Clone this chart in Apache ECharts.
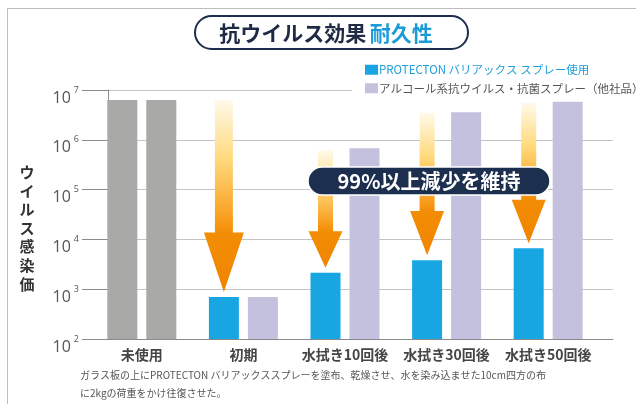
<!DOCTYPE html>
<html><head><meta charset="utf-8">
<script src="https://cdn.jsdelivr.net/npm/echarts@6/dist/echarts.min.js"></script>
<style>html,body{margin:0;padding:0;background:#fff}#c{width:636px;height:404px}</style>
</head><body><div id="c"></div>
<script>
const categories = ['未使用', '初期', '水拭き10回後', '水拭き30回後', '水拭き50回後'];
const protectonValues = [6.3e6, 697, 2140, 3800, 6620];
const alcoholValues = [6.3e6, 697, 6.8e5, 3.56e6, 5.8e6];
const arrowFrom = [null, 6.3e6, 6.2e5, 3.5e6, 5.5e6];
const seriesNames = ['PROTECTON バリアックス スプレー使用', 'アルコール系抗ウイルス・抗菌スプレー（他社品）'];
const yMin = 100, yMax = 1e7;

const FONT = '"Noto Sans CJK JP", "Noto Sans", sans-serif';
const BLUE = '#17a6e2', LAV = '#c4c1de', GRAY = '#a9a9a7';

const chart = echarts.init(document.getElementById('c'), null, {renderer: 'canvas'});

const arrowData = [];
arrowFrom.forEach((v, i) => { if (v != null) arrowData.push([i, v, protectonValues[i]]); });

function renderArrow(params, api) {
  const idx = api.value(0);
  const top = api.coord([idx, api.value(1)]);
  const bar = api.coord([idx, api.value(2)]);
  const cx = top[0] - 19.5;
  const y0 = top[1];
  const y1 = bar[1] - 5;
  const len = y1 - y0;
  const headH = len * 0.31;
  const shaft = idx === 1 ? 18 : 15;
  const headW = idx === 1 ? 40 : 34;
  const yh = y1 - headH;
  const pts = [
    [cx - shaft / 2, y0], [cx + shaft / 2, y0], [cx + shaft / 2, yh],
    [cx + headW / 2, yh], [cx, y1], [cx - headW / 2, yh], [cx - shaft / 2, yh]
  ];
  const hs = 1 - headH / len;
  return {
    type: 'polygon',
    shape: {points: pts},
    style: {
      fill: new echarts.graphic.LinearGradient(0, 0, 0, 1, [
        {offset: 0, color: '#fffaea'},
        {offset: hs * 0.45, color: '#ffd97c'},
        {offset: hs * 0.85, color: '#f9a428'},
        {offset: hs, color: '#f38d05'},
        {offset: 1, color: '#f08400'}
      ])
    }
  };
}

const option = {
  backgroundColor: '#fff',
  animation: false,
  textStyle: {fontFamily: FONT},
  grid: [
    {left: 108, right: 23, top: 90, bottom: 65},
    {left: 91, right: 37, top: 90, bottom: 65}
  ],
  xAxis: [
    {gridIndex: 0, type: 'value', min: 0, max: 1, axisLabel: {show: false}, axisTick: {show: false},
     splitLine: {show: false}, axisLine: {show: true, lineStyle: {color: '#8a8a8a', width: 1}}},
    {gridIndex: 1, type: 'category', data: categories, axisLine: {show: false}, axisTick: {show: false},
     axisLabel: {interval: 0, margin: 9, fontSize: 14, fontWeight: 'bold', color: '#444', fontFamily: FONT}}
  ],
  yAxis: [
    {gridIndex: 0, type: 'log', logBase: 10, min: yMin, max: yMax,
     axisLine: {show: true, lineStyle: {color: '#8a8a8a', width: 1}},
     axisTick: {show: true, inside: false, length: 26, lineStyle: {color: '#8a8a8a'}},
     splitLine: {show: true, lineStyle: {color: '#c4c4c4', width: 1}},
     axisLabel: {
       margin: 29, padding: [16, 0, 0, 0],
       formatter: v => '{b|10}{s|' + Math.round(Math.log10(v)) + '}',
       rich: {
         b: {fontSize: 16, lineHeight: 25, color: '#555', fontFamily: '"Open Sans", sans-serif', padding: [0, 3, 0, 0]},
         s: {fontSize: 9, lineHeight: 9, verticalAlign: 'top', color: '#555', fontFamily: '"Open Sans", sans-serif'}
       }
     }},
    {gridIndex: 1, type: 'log', logBase: 10, min: yMin, max: yMax, show: false}
  ],
  legend: {
    orient: 'vertical', left: 352, top: 62, padding: [2, 4, 2, 13], itemGap: 7,
    itemWidth: 13, itemHeight: 10, icon: 'rect', backgroundColor: '#fff',
    textStyle: {fontSize: 11.5, fontFamily: FONT, padding: [0, 0, 0, -4]},
    data: [
      {name: seriesNames[0], textStyle: {color: '#1f9fdb'}},
      {name: seriesNames[1], textStyle: {color: '#555'}}
    ]
  },
  series: [
    {name: seriesNames[0], type: 'bar', xAxisIndex: 1, yAxisIndex: 1, barWidth: 30, barGap: '30%',
     itemStyle: {color: BLUE},
     data: protectonValues.map((v, i) => i === 0 ? {value: v, itemStyle: {color: GRAY}} : v)},
    {name: seriesNames[1], type: 'bar', xAxisIndex: 1, yAxisIndex: 1, barWidth: 30, barGap: '30%',
     itemStyle: {color: LAV},
     data: alcoholValues.map((v, i) => i === 0 ? {value: v, itemStyle: {color: GRAY}} : v)},
    {type: 'custom', xAxisIndex: 1, yAxisIndex: 1, renderItem: renderArrow, data: arrowData, z: 5, silent: true}
  ],
  graphic: [
    {type: 'rect', z: -1, shape: {x: 7.5, y: 8.5, width: 700, height: 500},
     style: {fill: 'none', stroke: '#bdbdbd', lineWidth: 1}},
    {type: 'rect', z: 10, shape: {x: 195, y: 16, width: 273, height: 33, r: 16.5},
     style: {fill: '#fff', stroke: '#1d2d4e', lineWidth: 2}},
    {type: 'text', z: 11, x: 326, y: 33,
     style: {text: '{a|抗ウイルス効果} {b|耐久性}', align: 'center', verticalAlign: 'middle',
       rich: {a: {fontSize: 21, fontWeight: 'bold', fill: '#1f2a44', fontFamily: FONT},
              b: {fontSize: 21, fontWeight: 'bold', fill: '#1a9ad6', fontFamily: FONT}}}},
    {type: 'text', z: 11, x: 27, y: 228,
     style: {text: 'ウ\nイ\nル\nス\n感\n染\n価', align: 'center', verticalAlign: 'middle',
       fontSize: 15, lineHeight: 18.6, fontWeight: 'bold', fill: '#333', fontFamily: FONT}},
    {type: 'rect', z: 20, shape: {x: 308, y: 167, width: 242, height: 28, r: 14},
     style: {fill: '#1c2f4f', stroke: '#ffffff', lineWidth: 1.5}},
    {type: 'text', z: 21, x: 429, y: 181.5,
     style: {text: '99%以上減少を維持', align: 'center', verticalAlign: 'middle',
       fontSize: 20, fontWeight: 'bold', fill: '#fff', fontFamily: FONT}},
    {type: 'text', z: 11, x: 80, y: 366,
     style: {text: 'ガラス板の上にPROTECTON バリアックススプレーを塗布、乾燥させ、水を染み込ませた10cm四方の布\nに2kgの荷重をかけ往復させた。',
       fontSize: 10, lineHeight: 18, fill: '#555', fontFamily: FONT}}
  ]
};
chart.setOption(option);
</script></body></html>
